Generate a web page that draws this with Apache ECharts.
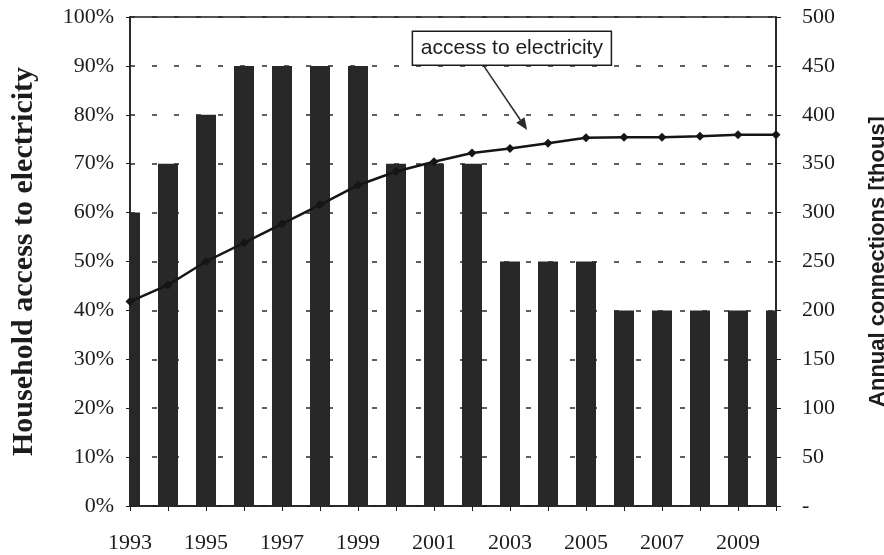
<!DOCTYPE html>
<html>
<head>
<meta charset="utf-8">
<script src="https://cdn.jsdelivr.net/npm/echarts@6/dist/echarts.min.js"></script>
<style>
  html, body { margin: 0; padding: 0; background: #ffffff; overflow: hidden; }
  #chart { width: 884px; height: 555px; }
</style>
</head>
<body>
<div id="chart"></div>
<script>
// Years on the category axis
const years = ['1993','1994','1995','1996','1997','1998','1999','2000','2001',
               '2002','2003','2004','2005','2006','2007','2008','2009','2010'];
// Annual connections, thousands (right axis)
const connections = [300, 350, 400, 450, 450, 450, 450, 350, 350,
                     350, 250, 250, 250, 200, 200, 200, 200, 200];
// Household access to electricity, % (left axis)
const access = [41.8, 45.2, 50.0, 53.8, 57.7, 61.6, 65.6, 68.4, 70.4,
                72.2, 73.1, 74.2, 75.3, 75.4, 75.4, 75.6, 75.9, 75.9];
// Tick ranges
const pctTicks = { min: 0, max: 100, step: 10 };
const connTicks = { min: 0, max: 500, step: 50 };
// Annotation: label text and where its arrow points (category position, %)
const noteText = 'access to electricity';
const noteTarget = { index: 10.45, value: 76.9 };
const noteBox = { index: 10.05, value: 93.6 };

const serif = "'Liberation Serif', 'Times New Roman', serif";
const sans = "'Liberation Sans', Arial, sans-serif";
const ink = '#1c1c1c';
const barHalf = 10;

const chart = echarts.init(document.getElementById('chart'));

// Bars centred on the year ticks, clipped to the plot frame
function renderBar(params, api) {
  const i = api.value(0);
  const top = api.coord([i, api.value(1)]);
  const base = api.coord([i, 0]);
  const cs = params.coordSys;
  const rect = echarts.graphic.clipRectByRect(
    { x: top[0] - barHalf, y: top[1], width: barHalf * 2, height: base[1] - top[1] },
    { x: cs.x, y: cs.y, width: cs.width, height: cs.height }
  );
  return rect && { type: 'rect', shape: rect, style: api.style() };
}

chart.setOption({
  backgroundColor: '#ffffff',
  animation: false,
  grid: {
    left: 130, right: 108, top: 17, bottom: 49,
    outerBoundsMode: 'none',
    containLabel: false,
    show: true, borderColor: ink, borderWidth: 1.5
  },
  xAxis: {
    type: 'category',
    data: years,
    boundaryGap: false,
    axisLine: { lineStyle: { color: ink, width: 1.5 } },
    axisTick: { interval: 0, length: 5, lineStyle: { color: ink } },
    axisLabel: {
      interval: 1, margin: 26,
      fontFamily: serif, fontSize: 22, color: ink
    },
    splitLine: { show: false }
  },
  yAxis: [
    {
      type: 'value',
      min: pctTicks.min, max: pctTicks.max, interval: pctTicks.step,
      position: 'left',
      name: 'Household access to electricity',
      nameLocation: 'middle',
      nameGap: 91,
      nameRotate: 90,
      nameTextStyle: { fontFamily: serif, fontSize: 30, fontWeight: 'bold', color: ink },
      axisLine: { show: true, lineStyle: { color: ink, width: 1.5 } },
      axisTick: { show: true, length: 4, lineStyle: { color: ink } },
      axisLabel: {
        formatter: '{value}%', margin: 16,
        fontFamily: serif, fontSize: 22, color: ink
      },
      splitLine: {
        show: true,
        lineStyle: { color: '#2a2a2a', width: 1.5, type: [5, 17] }
      }
    },
    {
      type: 'value',
      min: connTicks.min, max: connTicks.max, interval: connTicks.step,
      position: 'right',
      name: 'Annual connections [thous]',
      nameLocation: 'middle',
      nameGap: 91,
      nameRotate: 90,
      nameTextStyle: { fontFamily: sans, fontSize: 22, fontWeight: 'bold', color: ink },
      axisLine: { show: true, lineStyle: { color: ink, width: 1.5 } },
      axisTick: { show: true, length: 5, lineStyle: { color: ink } },
      axisLabel: {
        formatter: v => (v === 0 ? '-' : String(v)), margin: 26,
        fontFamily: serif, fontSize: 22, color: ink
      },
      splitLine: { show: false }
    }
  ],
  series: [
    {
      name: 'Annual connections',
      type: 'custom',
      yAxisIndex: 1,
      renderItem: renderBar,
      encode: { x: 0, y: 1 },
      data: connections.map((v, i) => [i, v]),
      itemStyle: { color: '#282828' },
      z: 2
    },
    {
      name: 'Household access',
      type: 'line',
      yAxisIndex: 0,
      data: access,
      clip: false,
      symbol: 'diamond',
      symbolSize: 9,
      lineStyle: { color: '#151515', width: 2.5 },
      itemStyle: { color: '#151515' },
      z: 5
    }
  ]
});

// Pixel position for a fractional category index and a percent value
function toPixel(index, value) {
  const i0 = Math.floor(index), i1 = Math.min(i0 + 1, years.length - 1);
  const f = index - i0;
  const p0 = chart.convertToPixel({ xAxisIndex: 0, yAxisIndex: 0 }, [i0, value]);
  const p1 = chart.convertToPixel({ xAxisIndex: 0, yAxisIndex: 0 }, [i1, value]);
  return [p0[0] + (p1[0] - p0[0]) * f, p0[1]];
}

// Callout box with an arrow pointing at the access curve
const boxW = 199, boxH = 34;
const c = toPixel(noteBox.index, noteBox.value);
const bx = c[0] - boxW / 2, by = c[1] - boxH / 2;
const tip = toPixel(noteTarget.index, noteTarget.value);
const start = [bx + 71, by + boxH];
const dx = tip[0] - start[0], dy = tip[1] - start[1];
const len = Math.hypot(dx, dy);
const ux = dx / len, uy = dy / len;
const headL = 12, headW = 5;
const baseX = tip[0] - ux * headL, baseY = tip[1] - uy * headL;

chart.setOption({
  graphic: [
    {
      type: 'line', z: 100,
      shape: { x1: start[0], y1: start[1], x2: baseX, y2: baseY },
      style: { stroke: '#2a2a2a', lineWidth: 1.5 }
    },
    {
      type: 'polygon', z: 100,
      shape: { points: [
        [tip[0], tip[1]],
        [baseX - uy * headW, baseY + ux * headW],
        [baseX + uy * headW, baseY - ux * headW]
      ] },
      style: { fill: '#2a2a2a' }
    },
    {
      type: 'rect', z: 101,
      shape: { x: bx, y: by, width: boxW, height: boxH },
      style: { fill: '#ffffff', stroke: ink, lineWidth: 1.5 }
    },
    {
      type: 'text', z: 102,
      x: c[0], y: c[1],
      style: {
        text: noteText, fill: ink,
        font: "21px 'Liberation Sans', Arial, sans-serif",
        align: 'center', verticalAlign: 'middle'
      }
    }
  ]
});
</script>
</body>
</html>
